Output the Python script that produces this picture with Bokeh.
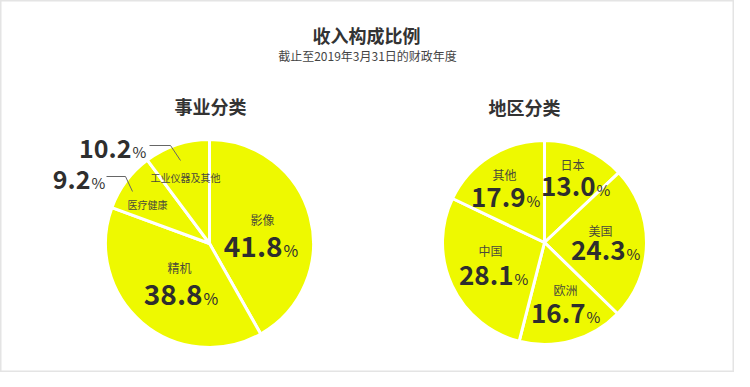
import math
from bokeh.plotting import figure
from bokeh.models import Range1d, ColumnDataSource
from bokeh.core.properties import value
from bokeh.embed import file_html
from bokeh.resources import INLINE

# ---- data ----
biz_categories = ["影像", "精机", "医疗健康", "工业仪器及其他"]
biz_values = [41.8, 38.8, 9.2, 10.2]
region_categories = ["日本", "美国", "欧洲", "中国", "其他"]
region_values = [13.0, 24.3, 16.7, 28.1, 17.9]

title_text = "收入构成比例"
subtitle_text = "截止至2019年3月31日的财政年度"
biz_title = "事业分类"
region_title = "地区分类"

FONT = value("Noto Sans CJK SC")
YELLOW = "#EEF900"
DARK = "#2e2e2e"

W, H = 734, 372
p = figure(width=W, height=H, output_backend="svg", toolbar_location=None,
           x_range=Range1d(8, 8 + W), y_range=Range1d(-(8 + H), -8),
           min_border=0, background_fill_color="white", border_fill_color="white")
p.axis.visible = False
p.grid.visible = False
p.outline_line_color = "#e4e4e4"
p.outline_line_width = 2


def wedges(cx, cy, r, vals):
    starts, ends = [], []
    cum = 0.0
    total = sum(vals)
    for v in vals:
        a0 = 90 - cum / total * 360
        cum += v
        a1 = 90 - cum / total * 360
        starts.append(a1)
        ends.append(a0)
    src = ColumnDataSource(dict(s=starts, e=ends))
    p.wedge(x=cx, y=-cy, radius=r, start_angle="s", end_angle="e",
            start_angle_units="deg", end_angle_units="deg", source=src,
            fill_color=YELLOW, line_color="white", line_width=3)


wedges(217, 251, 104, biz_values)
wedges(552, 250, 102, region_values)


def txt(x, y, t, size, bold=False, color=DARK, align="center"):
    p.text(x=[x], y=[-y], text=[t], text_font=FONT, text_font_size=f"{size}px",
           text_font_style="bold" if bold else "normal", text_color=color,
           text_align=align, text_baseline="middle")


def pct(xsplit, y, v, size, psize):
    txt(xsplit, y, f"{v:.1f}", size, bold=True, align="right")
    txt(xsplit + 1, y + size * 0.12, "%", psize, bold=False, align="left")


# titles
txt(374, 42, title_text, 18, bold=True, color="#333333")
txt(375, 63, subtitle_text, 12, color="#444444")
txt(218, 113, biz_title, 18, bold=True, color="#333333")
txt(532, 114, region_title, 18, bold=True, color="#333333")

# business labels (layout positions)
LBL = "#4a4a3a"
txt(270, 227, biz_categories[0], 12, color=LBL)
pct(290, 254, biz_values[0], 28, 16)
txt(187, 275, biz_categories[1], 12, color=LBL)
pct(210, 302, biz_values[1], 28, 16)
txt(155, 212, biz_categories[2], 10, color=LBL)
pct(98, 187, biz_values[2], 25, 15)
txt(193, 185, biz_categories[3], 10, color=LBL)
pct(139, 156, biz_values[3], 25, 15)

# leader lines
p.multi_line(xs=[[157, 178, 188], [114, 133, 140]],
             ys=[[-153, -153, -168], [-184, -184, -199]],
             line_color="#666666", line_width=1)

# region labels
txt(580, 172, region_categories[0], 12, color=LBL)
pct(603, 194, region_values[0], 26, 15)
txt(608, 238, region_categories[1], 12, color=LBL)
pct(633, 258, region_values[1], 26, 15)
txt(573, 297, region_categories[2], 12, color=LBL)
pct(593, 321, region_values[2], 26, 15)
txt(498, 258, region_categories[3], 12, color=LBL)
pct(521, 283, region_values[3], 26, 15)
txt(512, 182, region_categories[4], 12, color=LBL)
pct(533, 205, region_values[4], 26, 15)

open("out.html", "w").write(file_html(p, INLINE))
